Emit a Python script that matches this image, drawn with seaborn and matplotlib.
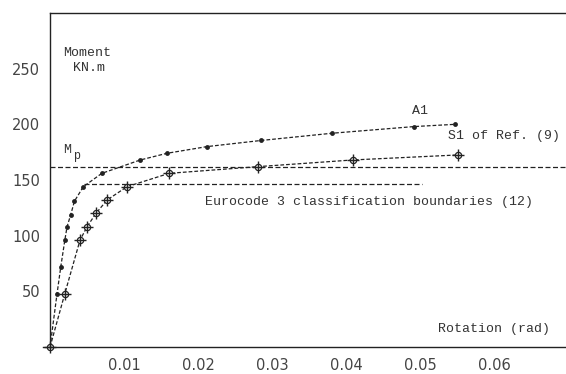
import matplotlib
matplotlib.use("Agg")
import matplotlib.pyplot as plt
import seaborn as sns
import pandas as pd

# ---- data ----
a1_rot = [0.0, 0.00095, 0.00145, 0.0020, 0.0023, 0.0028, 0.0033, 0.0045,
          0.0070, 0.0122, 0.0158, 0.0212, 0.0285, 0.0381, 0.0492, 0.0547]
a1_mom = [0, 48, 72, 96, 108, 119, 131, 144,
          156, 168, 174, 180, 185.5, 192, 198, 200]

s1_rot = [0.0, 0.0020, 0.00405, 0.0050, 0.0062, 0.0077, 0.0104,
          0.0161, 0.0281, 0.0409, 0.0551]
s1_mom = [0, 48, 96, 108, 120, 132, 144,
          156, 162, 168, 172.5]

mp_value = 162
ec3_value = 146.5
ec3_range = [0.0046, 0.0503]

x_ticks = [0.01, 0.02, 0.03, 0.04, 0.05, 0.06]
x_labels = ["0.01", "0.02", "0.03", "0.04", "0.05", "0.06"]
y_ticks = [50, 100, 150, 200, 250]
y_labels = ["50", "100", "150", "200", "250"]

sns.set_style("white")
plt.rcParams["font.family"] = ["DejaVu Sans"]

W, H = 566, 374
fig = plt.figure(figsize=(W / 100, H / 100), dpi=100)
ax = fig.add_axes([43 / W, 27 / H, 1 - 43 / W, (347 - 13) / H])

XMIN, XMAX = -0.00095, 0.0697
ax.set_xlim(XMIN, XMAX)
ax.set_ylim(0, 300)

line_col = "#222222"
dash = (0, (3, 1.6))

df_a1 = pd.DataFrame({"rot": a1_rot, "mom": a1_mom})
df_s1 = pd.DataFrame({"rot": s1_rot, "mom": s1_mom})

# Mp and Eurocode boundary lines
df_mp = pd.DataFrame({"rot": [0, XMAX], "mom": [mp_value, mp_value]})
sns.lineplot(data=df_mp, x="rot", y="mom", ax=ax, color=line_col, lw=0.9,
             linestyle=(0, (4, 2)), estimator=None, sort=False)
df_ec = pd.DataFrame({"rot": ec3_range, "mom": [ec3_value, ec3_value]})
sns.lineplot(data=df_ec, x="rot", y="mom", ax=ax, color=line_col, lw=0.9,
             linestyle=(0, (4, 2)), estimator=None, sort=False)

# A1 curve
sns.lineplot(data=df_a1, x="rot", y="mom", ax=ax, color=line_col, lw=0.9,
             linestyle=dash, marker="o", markersize=3.5, markeredgewidth=0,
             markerfacecolor=line_col, estimator=None, sort=False, clip_on=False)

# S1 curve
sns.lineplot(data=df_s1, x="rot", y="mom", ax=ax, color=line_col, lw=0.9,
             linestyle=dash, marker="o", markersize=4.5, markeredgewidth=0.9,
             markerfacecolor="white", markeredgecolor=line_col,
             estimator=None, sort=False, clip_on=False)
sns.scatterplot(data=df_s1, x="rot", y="mom", ax=ax, marker="+", s=80,
                color=line_col, linewidth=1.0, clip_on=False, zorder=5)

# spines
ax.spines["right"].set_visible(False)
ax.spines["left"].set_position(("data", 0))
ax.spines["top"].set_bounds(0, XMAX)
for s in ["left", "bottom", "top"]:
    ax.spines[s].set_color("#222222")
    ax.spines[s].set_linewidth(1.0)

ax.set_xticks(x_ticks)
ax.set_xticklabels(x_labels)
ax.set_yticks(y_ticks)
ax.set_yticklabels(y_labels)
ax.tick_params(axis="x", direction="inout", length=8, width=1.0,
               color="#222222", labelsize=10.5, labelcolor="#444444", pad=4)
ax.tick_params(axis="y", direction="inout", length=10, width=1.0,
               color="#222222", labelsize=10.5, labelcolor="#444444", pad=2)
ax.set_xlabel("")
ax.set_ylabel("")

mono = "Liberation Mono"
tc = "#333333"
fs = 9.5

def dx(px):
    return XMIN + (px - 43) / 7402.0

def dy(py):
    return (347 - py) / 1.113

ax.text(dx(63), dy(53), "Moment", family=mono, fontsize=fs, color=tc,
        ha="left", va="center")
ax.text(dx(73), dy(68), "KN.m", family=mono, fontsize=fs, color=tc,
        ha="left", va="center")
ax.text(dx(63), dy(150), "M", family=mono, fontsize=fs, color=tc,
        ha="left", va="center")
ax.text(dx(73), dy(156), "p", family=mono, fontsize=fs - 1, color=tc,
        ha="left", va="center")
ax.text(dx(412), dy(111), "A1", family=mono, fontsize=fs, color=tc,
        ha="left", va="center")
ax.text(dx(448), dy(136), "S1 of Ref. (9)", family=mono, fontsize=fs,
        color=tc, ha="left", va="center")
ax.text(dx(205), dy(202), "Eurocode 3 classification boundaries (12)",
        family=mono, fontsize=fs, color=tc, ha="left", va="center")
ax.text(dx(438), dy(329), "Rotation (rad)", family=mono, fontsize=fs,
        color=tc, ha="left", va="center")

fig.savefig("out.png", dpi=100)
